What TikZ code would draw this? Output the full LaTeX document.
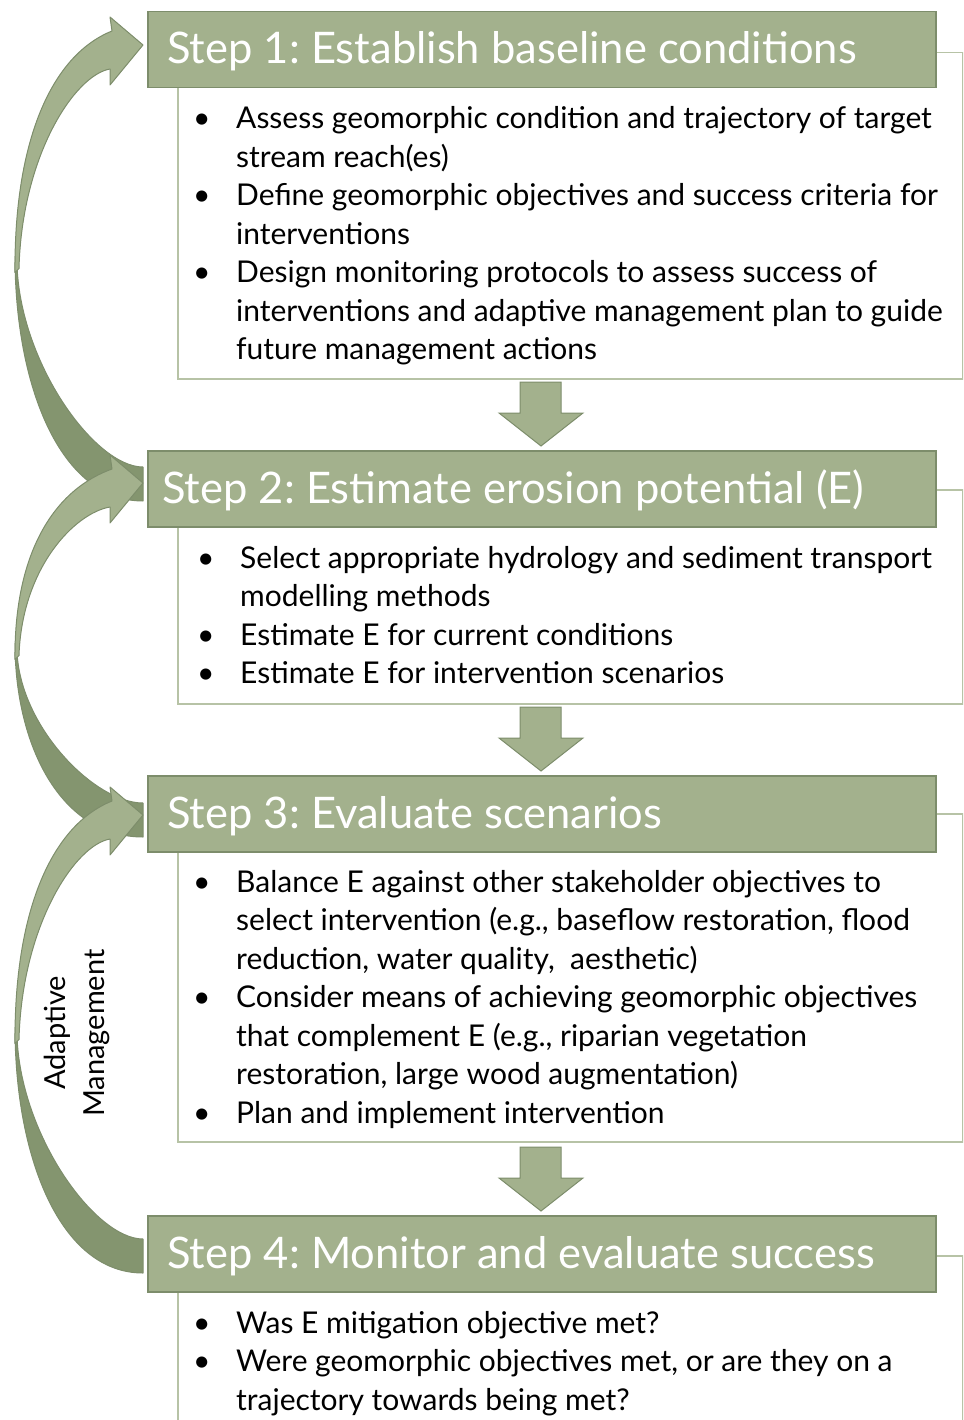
\documentclass[tikz,border=0pt]{standalone}
\usepackage{fontspec}
\setmainfont{Lato}
\definecolor{hdfill}{HTML}{A3B18D}
\definecolor{hdline}{HTML}{7D8D6B}
\definecolor{darkfill}{HTML}{84956F}
\definecolor{boxline}{HTML}{B7C3A6}
\frenchspacing
\newcommand\curvarr[2]{%
 \pgfmathsetmacro\cAm{(#1+#2)/2}%
 \pgfmathsetmacro\cAd{\cAm-#1}%
 \pgfmathsetmacro\cAe{#2-\cAm}%
 \draw[back] (15,{\cAm-8}) .. controls (15,{\cAm+0.55*\cAe}) and (60,{#2+17}) .. (143,{#2+17}) -- (143,{#2-17}) .. controls (95,{#2-17}) and (20,{\cAm+0.45*\cAe}) .. (17,{\cAm}) -- cycle;
 \draw[front] (15,{\cAm+8}) .. controls (14,{\cAm-0.55*\cAd}) and (50,{#1+0.05*\cAd}) .. (112,{#1-14}) -- (110,{#1-28}) -- (143,{#1}) -- (110,{#1+40}) -- (110,{#1+24}) .. controls (75,{#1+30}) and (22,{\cAm-0.5*\cAd}) .. (19,{\cAm+4}) -- cycle;
}
\newcommand\downblk[1]{%
 \draw[blockarrow] (520,#1) -- (561,#1) -- (561,{#1+31}) -- (583,{#1+31}) -- (541,{#1+64}) -- (499,{#1+31}) -- (520,{#1+31}) -- cycle;
}
\begin{document}
\begin{tikzpicture}[x=1pt,y=-1pt,
  header/.style={draw=hdline, line width=1.5pt, fill=hdfill, minimum width=788pt, minimum height=76pt, anchor=north west, inner sep=0pt},
  bodybox/.style={draw=boxline, line width=1.5pt, fill=white, anchor=north west, inner sep=0pt, minimum width=785pt},
  htext/.style={anchor=base west, text=white, font=\fontsize{43.5}{46}\selectfont, inner sep=0pt},
  btext/.style={anchor=base west, inner sep=0pt, font=\fontsize{30}{38.5}\selectfont},
  blockarrow/.style={fill=hdfill, draw=hdline, line width=1pt, line join=miter},
  front/.style={fill=hdfill, draw=hdline, line width=1pt, line join=round},
  back/.style={fill=darkfill, draw=hdline, line width=1pt, line join=round}]
\useasboundingbox (0,0) rectangle (963,1420);
\clip (0,0) rectangle (963,1420);
% body boxes
\node[bodybox, minimum height=326pt] (b1) at (177,52) {};
\node[bodybox, minimum height=214pt] (b2) at (177,489) {};
\node[bodybox, minimum height=328pt] (b3) at (177,813) {};
\node[bodybox, minimum height=200pt] (b4) at (177,1255) {};
% headers
\node[header] (h1) at (147,11) {};
\node[header] (h2) at (147,450) {};
\node[header] (h3) at (147,775) {};
\node[header] (h4) at (147,1215) {};
\node[htext] (t1) at (167,64) {Step 1: Establish baseline conditions};
\node[htext] (t2) at (162,503) {Step 2: Estimate erosion potential (E)};
\node[htext] (t3) at (167,828) {Step 3: Evaluate scenarios};
\node[htext] (t4) at (167,1268) {Step 4: Monitor and evaluate success};
% body texts
\node[btext] (l1) at (193,129) {\begin{tabular}[t]{@{}p{43pt}@{}l@{}}
\textbullet & Assess geomorphic condition and trajectory of target\\
 & stream reach(es)\\
\textbullet & Define geomorphic objectives and success criteria for\\
 & interventions\\
\textbullet & Design monitoring protocols to assess success of\\
 & interventions and adaptive management plan to guide\\
 & future management actions
\end{tabular}};
\node[btext] (l2) at (197,568) {\begin{tabular}[t]{@{}p{43pt}@{}l@{}}
\textbullet & Select appropriate hydrology and sediment transport\\
 & modelling methods\\
\textbullet & Estimate E for current conditions\\
\textbullet & Estimate E for intervention scenarios
\end{tabular}};
\node[btext] (l3) at (193,892) {\begin{tabular}[t]{@{}p{43pt}@{}l@{}}
\textbullet & Balance E against other stakeholder objectives to\\
 & select intervention (e.g., baseflow restoration, flood\\
 & reduction, water quality,\ \ aesthetic)\\
\textbullet & Consider means of achieving geomorphic objectives\\
 & that complement E (e.g., riparian vegetation\\
 & restoration, large wood augmentation)\\
\textbullet & Plan and implement intervention
\end{tabular}};
\node[btext] (l4) at (193,1333) {\begin{tabular}[t]{@{}p{43pt}@{}l@{}}
\textbullet & Was E mitigation objective met?\\
\textbullet & Were geomorphic objectives met, or are they on a\\
 & trajectory towards being met?
\end{tabular}};
% down block arrows
\downblk{382}
\downblk{707}
\downblk{1147}
% curved arrows
\curvarr{45}{484}
\curvarr{483}{820}
\curvarr{815}{1256}
\node[rotate=90, align=center, inner sep=0pt, font=\fontsize{29}{38.5}\selectfont] (am) at (77,1033) {Adaptive\\Management};
\end{tikzpicture}
\end{document}
